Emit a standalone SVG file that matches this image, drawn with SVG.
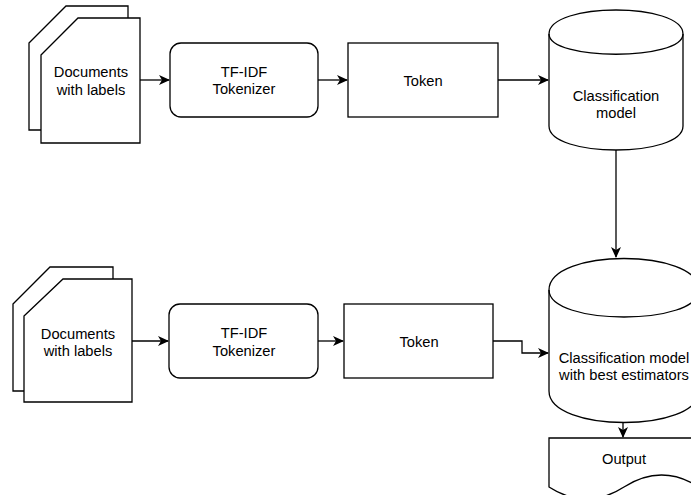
<svg xmlns="http://www.w3.org/2000/svg" width="691" height="495" viewBox="0 0 691 495">
<style>
.s{fill:#fff;stroke:#000;stroke-width:1.3}
.e{fill:none;stroke:#000;stroke-width:1.3}
text{font-family:"Liberation Sans",Arial,sans-serif;font-size:14.7px;fill:#000;text-anchor:middle}
</style>
<defs>
<marker id="a" markerWidth="11" markerHeight="10" refX="10" refY="5" orient="auto" markerUnits="userSpaceOnUse">
<path d="M0,0 L11,5 L0,10 L3,5 z" fill="#000"/>
</marker>
</defs>
<rect width="691" height="495" fill="#fff"/>
<g id="docs1">
<path class="s" d="M29,43 L66,6 H128 V130 H29 Z"/>
<path class="s" d="M41,55 L78,18 H140 V143 H41 Z"/>
<text x="91" y="77">Documents</text>
<text x="91" y="94.5">with labels</text>
</g>
<g id="tfidf1">
<rect class="s" x="170" y="43" width="148" height="74" rx="11"/>
<text x="244" y="76.5">TF-IDF</text>
<text x="244" y="94">Tokenizer</text>
</g>
<g id="token1">
<rect class="s" x="348" y="43" width="150" height="74"/>
<text x="423" y="86">Token</text>
</g>
<g id="model1">
<path class="s" d="M549,34 C549,2 683,2 683,34 V126 C683,158 549,158 549,126 Z"/>
<path class="e" d="M549,34 C549,61 683,61 683,34"/>
<text x="616" y="100.5">Classification</text>
<text x="616" y="118">model</text>
</g>
<g id="docs2">
<path class="s" d="M13,304 L50,267 H113 V391 H13 Z"/>
<path class="s" d="M24,316 L63,279 H132 V402 H24 Z"/>
<text x="78" y="338.5">Documents</text>
<text x="78" y="356">with labels</text>
</g>
<g id="tfidf2">
<rect class="s" x="169" y="304" width="149" height="74" rx="11"/>
<text x="244" y="338">TF-IDF</text>
<text x="244" y="355.5">Tokenizer</text>
</g>
<g id="token2">
<rect class="s" x="344" y="304" width="149" height="74"/>
<text x="419" y="347">Token</text>
</g>
<g id="model2">
<path class="s" d="M549,290 C549,248 699,248 699,290 V391 C699,433 549,433 549,391 Z"/>
<path class="e" d="M549,290 C549,326 699,326 699,290"/>
<text x="624" y="362.5">Classification model</text>
<text x="624" y="380">with best estimators</text>
</g>
<g id="output">
<path class="s" d="M549,438 H699 V487 Q661.5,463 624,487 Q586.5,511 549,487 Z"/>
<text x="624" y="463.5">Output</text>
</g>
<g id="connectors">
<path class="e" d="M140,80 H169" marker-end="url(#a)"/>
<path class="e" d="M318,80 H347" marker-end="url(#a)"/>
<path class="e" d="M498,80 H548" marker-end="url(#a)"/>
<path class="e" d="M616,150 V257" marker-end="url(#a)"/>
<path class="e" d="M132,341 H168" marker-end="url(#a)"/>
<path class="e" d="M318,341 H343" marker-end="url(#a)"/>
<path class="e" d="M493,341 H522 V353 H548" marker-end="url(#a)"/>
<path class="e" d="M623,423 V437" marker-end="url(#a)"/>
</g>
</svg>
